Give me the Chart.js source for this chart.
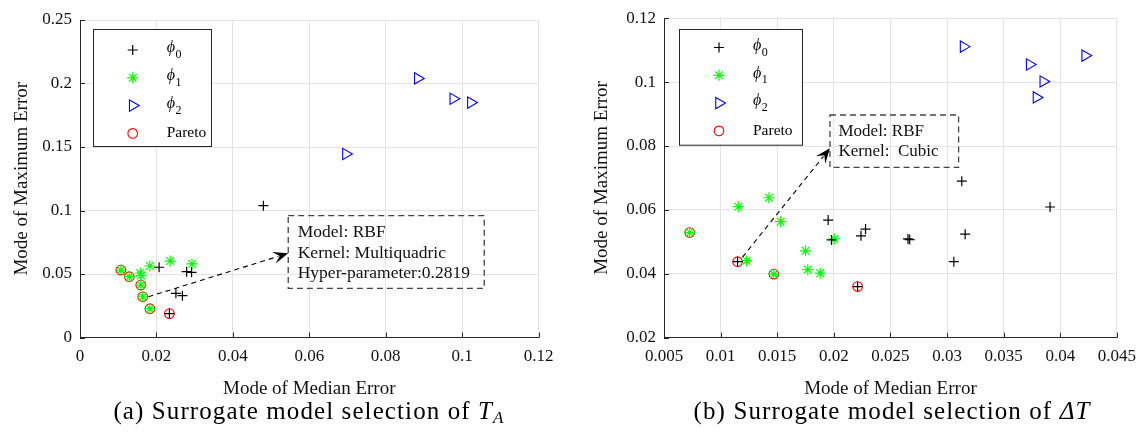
<!DOCTYPE html>
<html><head><meta charset="utf-8">
<script src="https://cdn.jsdelivr.net/npm/chart.js@4.4.1/dist/chart.umd.min.js"></script>
<style>
html,body{margin:0;padding:0;background:#fff;width:1145px;height:436px;overflow:hidden;}
.wrap{position:absolute;top:0;}
.cap{position:absolute;top:398px;font-family:'Liberation Serif',serif;font-size:25px;line-height:26px;color:#000;white-space:nowrap;transform:translateX(-50%);letter-spacing:1.1px;}
.cap sub{font-size:17px;vertical-align:-4px;line-height:0;}
</style></head><body>
<div class="wrap" style="left:0;width:580px;height:436px"><canvas id="ca" width="580" height="436"></canvas></div>
<div class="wrap" style="left:580px;width:565px;height:436px"><canvas id="cb" width="565" height="436"></canvas></div>
<div class="cap" style="left:309px">(a) Surrogate model selection of <i>T</i><sub><i>A</i></sub></div>
<div class="cap" style="left:892px">(b) Surrogate model selection of <i>&#916;T</i></div>
<script>
// ---------- data ----------
const seriesNames = ['\u03D5_0', '\u03D5_1', '\u03D5_2', 'Pareto'];
const xTitle = 'Mode of Median Error';
const yTitle = 'Mode of Maximum Error';

// (a) T_A
const xTicksA = [0, 0.02, 0.04, 0.06, 0.08, 0.1, 0.12];
const yTicksA = [0, 0.05, 0.1, 0.15, 0.2, 0.25];
const phi0A = [[0.048,0.1038],[0.0207,0.0553],[0.0279,0.0518],[0.0292,0.0513],[0.0251,0.0348],[0.0268,0.0329],[0.0234,0.0188]];
const phi1A = [[0.0107,0.0531],[0.0129,0.0479],[0.0159,0.0413],[0.0164,0.0321],[0.0183,0.0227],[0.0158,0.0508],[0.0160,0.0488],[0.0183,0.0563],[0.0236,0.0602],[0.0293,0.0579]];
const phi2A = [[0.0884,0.204],[0.0977,0.188],[0.1023,0.185],[0.0696,0.1445]];
const paretoA = [[0.0107,0.0531],[0.0129,0.0479],[0.0159,0.0413],[0.0164,0.0321],[0.0183,0.0227],[0.0234,0.0188]];
const noteA = ['Model: RBF', 'Kernel: Multiquadric', 'Hyper-parameter:0.2819'];

// (b) Delta T
const xTicksB = [0.005, 0.01, 0.015, 0.02, 0.025, 0.03, 0.035, 0.04, 0.045];
const yTicksB = [0.02, 0.04, 0.06, 0.08, 0.1, 0.12];
const phi0B = [[0.0115,0.0438],[0.0221,0.036],[0.0195,0.0568],[0.0198,0.0506],[0.0228,0.054],[0.0224,0.0519],[0.02655,0.0509],[0.0267,0.0507],[0.0313,0.069],[0.0391,0.0609],[0.0316,0.0524],[0.0306,0.0438]];
const phi1B = [[0.00727,0.0529],[0.0123,0.0441],[0.0147,0.0399],[0.01156,0.061],[0.01427,0.0638],[0.0153,0.0563],[0.0175,0.0472],[0.0177,0.0413],[0.0188,0.0402],[0.02004,0.0509]];
const phi2B = [[0.03146,0.1111],[0.0373,0.1055],[0.0385,0.1002],[0.0379,0.0952],[0.0422,0.1083]];
const paretoB = [[0.00727,0.0529],[0.0115,0.0438],[0.0147,0.0399],[0.0221,0.036]];
const noteB = ['Model: RBF', 'Kernel:  Cubic'];

// ---------- helpers ----------
const SERIF = "'Liberation Serif', 'Times New Roman', serif";
const toPts = arr => arr.map(p => ({x: p[0], y: p[1]}));
const fmt = v => String(Number(v.toFixed(4)));

function marker(ctx, style, x, y, r, color, lw, rot) {
  ctx.save();
  ctx.strokeStyle = color; ctx.lineWidth = lw; ctx.setLineDash([]);
  ctx.beginPath();
  if (style === 'cross') {
    ctx.moveTo(x - r, y); ctx.lineTo(x + r, y); ctx.moveTo(x, y - r); ctx.lineTo(x, y + r);
  } else if (style === 'star') {
    const d = r * Math.SQRT1_2;
    ctx.moveTo(x - r, y); ctx.lineTo(x + r, y); ctx.moveTo(x, y - r); ctx.lineTo(x, y + r);
    ctx.moveTo(x - d, y - d); ctx.lineTo(x + d, y + d); ctx.moveTo(x - d, y + d); ctx.lineTo(x + d, y - d);
  } else if (style === 'triangle') {
    let a = (rot || 0) * Math.PI / 180;
    for (let k = 0; k < 3; k++) {
      const px = x + Math.sin(a) * r, py = y - Math.cos(a) * r;
      k ? ctx.lineTo(px, py) : ctx.moveTo(px, py);
      a += 2 * Math.PI / 3;
    }
    ctx.closePath();
  } else {
    ctx.arc(x, y, r, 0, Math.PI * 2);
  }
  ctx.stroke();
  ctx.restore();
}

const mlPlugin = {
  id: 'ml',
  beforeDatasetsDraw(chart) {
    const {ctx, chartArea: ca, scales: {x, y}} = chart;
    ctx.save();
    ctx.strokeStyle = '#262626'; ctx.lineWidth = 1;
    ctx.beginPath();
    x.ticks.forEach(t => { const p = Math.round(x.getPixelForValue(t.value)) + 0.5; ctx.moveTo(p, ca.bottom); ctx.lineTo(p, ca.bottom - 5); });
    y.ticks.forEach(t => { const p = Math.round(y.getPixelForValue(t.value)) + 0.5; ctx.moveTo(ca.left, p); ctx.lineTo(ca.left + 5, p); });
    ctx.stroke();
    ctx.restore();
  },
  afterDatasetsDraw(chart, args, o) {
    const {ctx, chartArea: ca, scales: {x, y}} = chart;
    // legend
    const L = o.legend;
    const lx = ca.left + L.dx, ly = ca.top + L.dy;
    ctx.save();
    ctx.fillStyle = '#fff'; ctx.fillRect(lx, ly, L.w, L.h);
    ctx.strokeStyle = '#262626'; ctx.lineWidth = 1; ctx.setLineDash([]);
    ctx.strokeRect(Math.round(lx) + 0.5, Math.round(ly) + 0.5, L.w, L.h);
    chart.data.datasets.forEach((ds, i) => {
      const cy = ly + L.row0 + i * L.rowH;
      marker(ctx, ds.pointStyle, lx + L.mdx, cy, ds.pointRadius, ds.borderColor, ds.borderWidth, ds.rotation);
      const parts = ds.label.split('_');
      ctx.fillStyle = '#000'; ctx.textBaseline = 'middle'; ctx.textAlign = 'left';
      if (parts.length > 1) {
        ctx.font = 'italic 16px ' + SERIF;
        ctx.fillText(parts[0], lx + L.tdx, cy - 2);
        const w = ctx.measureText(parts[0]).width;
        ctx.font = '12px ' + SERIF;
        ctx.fillText(parts[1], lx + L.tdx + w + 0.5, cy + 5);
      } else {
        ctx.font = '15.5px ' + SERIF;
        ctx.fillText(parts[0], lx + L.tdx, cy);
      }
    });
    // annotation box
    const N = o.note;
    const bx0 = x.getPixelForValue(N.box[0]), by0 = y.getPixelForValue(N.box[1]);
    const bx1 = x.getPixelForValue(N.box[2]), by1 = y.getPixelForValue(N.box[3]);
    ctx.strokeStyle = '#444'; ctx.lineWidth = 1.3; ctx.setLineDash([6, 4]);
    ctx.strokeRect(bx0, by0, bx1 - bx0, by1 - by0);
    ctx.setLineDash([]);
    ctx.fillStyle = '#111'; ctx.font = N.font + 'px ' + SERIF; ctx.textBaseline = 'middle';
    N.text.forEach((t, i) => ctx.fillText(t, bx0 + N.pad, by0 + N.first + i * N.lh));
    // arrow
    const ax0 = x.getPixelForValue(N.from[0]), ay0 = y.getPixelForValue(N.from[1]);
    const ax1 = x.getPixelForValue(N.to[0]), ay1 = y.getPixelForValue(N.to[1]);
    const ang = Math.atan2(ay1 - ay0, ax1 - ax0);
    const hl = 15, hw = 6;
    const ux = Math.cos(ang), uy = Math.sin(ang);
    ctx.strokeStyle = '#000'; ctx.lineWidth = 1.1; ctx.setLineDash([5, 4]);
    ctx.beginPath(); ctx.moveTo(ax0, ay0); ctx.lineTo(ax1 - ux * hl * 0.7, ay1 - uy * hl * 0.7); ctx.stroke();
    ctx.setLineDash([]);
    ctx.fillStyle = '#000';
    ctx.beginPath();
    ctx.moveTo(ax1, ay1);
    ctx.lineTo(ax1 - ux * hl - uy * hw, ay1 - uy * hl + ux * hw);
    ctx.lineTo(ax1 - ux * hl * 0.6, ay1 - uy * hl * 0.6);
    ctx.lineTo(ax1 - ux * hl + uy * hw, ay1 - uy * hl - ux * hw);
    ctx.closePath(); ctx.fill();
    ctx.restore();
  }
};

function datasets(p0, p1, p2, par) {
  return [
    {label: seriesNames[0], data: toPts(p0), pointStyle: 'cross', pointRadius: 5, borderColor: '#000', backgroundColor: 'rgba(0,0,0,0)', borderWidth: 1.2},
    {label: seriesNames[1], data: toPts(p1), pointStyle: 'star', pointRadius: 5.5, borderColor: '#00ff00', backgroundColor: 'rgba(0,0,0,0)', borderWidth: 1.2},
    {label: seriesNames[2], data: toPts(p2), pointStyle: 'triangle', rotation: 90, pointRadius: 6.5, borderColor: '#0000ff', backgroundColor: 'rgba(0,0,0,0)', borderWidth: 1.1},
    {label: seriesNames[3], data: toPts(par), pointStyle: 'circle', pointRadius: 4.8, borderColor: '#ff0000', backgroundColor: 'rgba(0,0,0,0)', borderWidth: 1.1}
  ];
}

function makeChart(id, ds, xT, yT, area, note, legend) {
  const W = document.getElementById(id).width;
  return new Chart(document.getElementById(id), {
    type: 'scatter',
    data: {datasets: ds},
    plugins: [mlPlugin],
    options: {
      responsive: false, animation: false, devicePixelRatio: 1,
      layout: {padding: {left: 0, top: area.top, right: W - area.right, bottom: 36}},
      plugins: {legend: {display: false}, tooltip: {enabled: false}, ml: {note, legend}},
      scales: {
        x: {
          type: 'linear', min: xT[0], max: xT[xT.length - 1],
          afterBuildTicks: s => { s.ticks = xT.map(v => ({value: v})); },
          afterFit: s => { s.height = 400 - area.bottom; },
          grid: {color: '#e3e3e3', lineWidth: 1, drawTicks: false},
          border: {display: true, color: '#262626', width: 1},
          ticks: {padding: 9, color: '#111', font: {family: SERIF, size: 17}, callback: v => fmt(v), maxRotation: 0, autoSkip: false},
          title: {display: true, text: xTitle, color: '#111', font: {family: SERIF, size: 19}, padding: {top: 0, bottom: 0}}
        },
        y: {
          type: 'linear', min: yT[0], max: yT[yT.length - 1],
          afterBuildTicks: s => { s.ticks = yT.map(v => ({value: v})); },
          afterFit: s => { s.width = area.left; },
          grid: {color: '#e3e3e3', lineWidth: 1, drawTicks: false},
          border: {display: true, color: '#262626', width: 1},
          ticks: {padding: 8, color: '#111', font: {family: SERIF, size: 17}, callback: v => fmt(v), autoSkip: false},
          title: {display: true, text: yTitle, color: '#111', font: {family: SERIF, size: 19}, padding: {top: 10.5, bottom: 0}}
        }
      }
    }
  });
}

makeChart('ca', datasets(phi0A, phi1A, phi2A, paretoA), xTicksA, yTicksA,
  {left: 80, right: 538.5, top: 20, bottom: 337.5},
  {text: noteA, box: [0.0545, 0.0959, 0.1058, 0.0387], from: [0.0179, 0.0321], to: [0.0545, 0.0663], font: 17.5, pad: 9.5, first: 17, lh: 20.3},
  {dx: 12.7, dy: 9, w: 118, h: 117, row0: 21, rowH: 27.8, mdx: 40, tdx: 74});

makeChart('cb', datasets(phi0B, phi1B, phi2B, paretoB), xTicksB, yTicksB,
  {left: 84, right: 541, top: 15.7, bottom: 337.7},
  {text: noteB, box: [0.01966, 0.0897, 0.03102, 0.0733], from: [0.01193, 0.0452], to: [0.01966, 0.0793], font: 17, pad: 8.5, first: 16.7, lh: 20},
  {dx: 15, dy: 10.3, w: 123, h: 115.7, row0: 19, rowH: 27.8, mdx: 40, tdx: 74});
</script>
</body></html>
